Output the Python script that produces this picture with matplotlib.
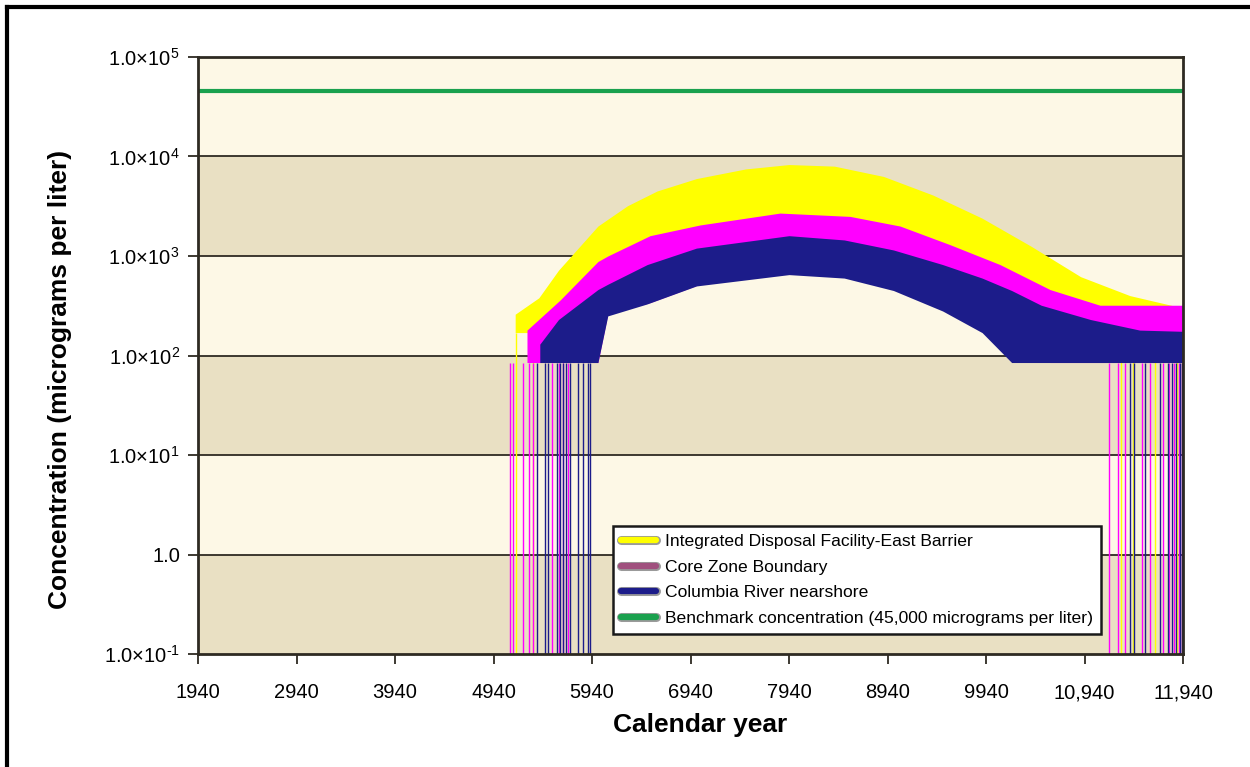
import matplotlib
matplotlib.use("Agg")
import matplotlib.pyplot as plt
from matplotlib.lines import Line2D
import matplotlib.patheffects as pe

plt.rcParams['font.family'] = ['Liberation Sans', 'DejaVu Sans']
plt.rcParams['mathtext.fontset'] = 'custom'
plt.rcParams['mathtext.rm'] = 'Liberation Sans'
plt.rcParams['mathtext.it'] = 'Liberation Sans'
plt.rcParams['mathtext.bf'] = 'Liberation Sans:bold'

# ---------------- data ----------------
x_ticks = [1940, 2940, 3940, 4940, 5940, 6940, 7940, 8940, 9940, 10940, 11940]
x_tick_labels = ["1940", "2940", "3940", "4940", "5940", "6940", "7940",
                 "8940", "9940", "10,940", "11,940"]
y_ticks = [0.1, 1, 10, 100, 1000, 10000, 100000]
y_tick_labels = ["$1.0{\\times}10^{\u2010 1}$", "1.0", r"$1.0{\times}10^{1}$",
                 r"$1.0{\times}10^{2}$", r"$1.0{\times}10^{3}$",
                 r"$1.0{\times}10^{4}$", r"$1.0{\times}10^{5}$"]

idf_years = [5160, 5400, 5600, 5800, 6000, 6300, 6600, 7000, 7500, 7940,
             8400, 8900, 9400, 9900, 10400, 10900, 11400, 11940]
idf_upper = [260, 380, 720, 1200, 2000, 3200, 4500, 6000, 7500, 8300,
             8000, 6300, 4100, 2400, 1250, 620, 400, 300]
idf_lower = [170, 170, 170, 250, 450, 800, 1100, 1500, 1800, 1900,
             1800, 1500, 1000, 600, 300, 170, 170, 170]

core_years = [5280, 5615, 6000, 6100, 6529, 7036, 7849, 8559, 9067, 9574,
              10082, 10590, 11097, 11940]
core_upper = [180, 360, 880, 1000, 1600, 2050, 2700, 2500, 2000, 1300,
              820, 460, 320, 320]
core_lower = [85, 85, 85, 260, 340, 520, 680, 620, 480, 300, 170, 85, 85, 85]

river_years = [5410, 5600, 6000, 6100, 6500, 7000, 7940, 8500, 9000, 9500,
               9900, 10200, 10500, 11000, 11500, 11940]
river_upper = [130, 230, 460, 520, 820, 1200, 1600, 1450, 1150, 820,
               600, 450, 320, 230, 180, 175]
river_lower = [85, 85, 85, 250, 330, 500, 650, 600, 450, 280,
               170, 85, 85, 85, 85, 85]

idf_drop_years = [5168, 5341, 11310, 11432, 11656, 11880]
idf_drop_top = [170, 170, 170, 170, 170, 170]
core_drop_years = [5108, 5138, 5239, 5300, 5341, 5534, 5600, 5650, 5700,
                   11189, 11280, 11351, 11523, 11605, 11737, 11800, 11850,
                   11900, 11930]
core_drop_top = [85] * len(core_drop_years)
river_drop_years = [5382, 5463, 5493, 5585, 5615, 5646, 5676, 5717, 5798,
                    5849, 5899, 5920, 11402, 11440, 11554, 11706, 11788,
                    11828, 11869, 11909, 11925]
river_drop_top = [85] * len(river_drop_years)

benchmark = 45000

# ---------------- styles ----------------
c_idf = "#FFFF00"
c_core = "#FF00FF"
c_river = "#1C1C8A"
c_bench = "#1AA14E"
band_light = "#FDF8E6"
band_tan = "#E9E0C3"

fig = plt.figure(figsize=(12.5, 7.67), dpi=100)
ax = fig.add_axes([0.1584, 0.1473, 0.788, 0.7784])
ax.set_yscale("log")
ax.set_xlim(1940, 11940)
ax.set_ylim(0.1, 100000)

# alternating decade bands
for i in range(len(y_ticks) - 1):
    col = band_light if (len(y_ticks) - 2 - i) % 2 == 0 else band_tan
    ax.axhspan(y_ticks[i], y_ticks[i + 1], color=col, zorder=0, lw=0)
for yv in y_ticks[1:-1]:
    ax.axhline(yv, color="#2E2A22", lw=1.3, zorder=1)

# series
ax.vlines(idf_drop_years, 0.1, idf_drop_top, colors=c_idf, lw=1.0, zorder=2)
ax.fill_between(idf_years, idf_lower, idf_upper, color=c_idf, lw=0, zorder=2)
ax.vlines(core_drop_years, 0.1, core_drop_top, colors=c_core, lw=1.0, zorder=3)
ax.fill_between(core_years, core_lower, core_upper, color=c_core, lw=0, zorder=3)
ax.vlines(river_drop_years, 0.1, river_drop_top, colors=c_river, lw=1.0, zorder=4)
ax.fill_between(river_years, river_lower, river_upper, color=c_river, lw=0, zorder=4)
ax.axhline(benchmark, color=c_bench, lw=3, zorder=5)

# axes styling
ax.set_xticks(x_ticks)
ax.set_xticklabels(x_tick_labels, fontsize=14.5)
ax.set_yticks(y_ticks)
ax.set_yticklabels(y_tick_labels, fontsize=14.5)
ax.minorticks_off()
ax.tick_params(axis="both", direction="out", length=7, width=1.3,
               color="#2E2A22", pad=6)
ax.tick_params(axis="x", pad=14)
for s in ax.spines.values():
    s.set_color("#2E2A22")
    s.set_linewidth(2)
    s.set_zorder(6)

ax.set_xlabel("Calendar year", fontsize=19, fontweight="bold")
ax.set_ylabel("Concentration (micrograms per liter)", fontsize=19,
              fontweight="bold")
ax.xaxis.set_label_coords(0.5096, -0.099)
ax.yaxis.set_label_coords(-0.128, 0.46)

edge = [pe.Stroke(linewidth=6.5, foreground="#9A9A9A"), pe.Normal()]
handles = [
    Line2D([], [], color=c_idf, lw=4.5, solid_capstyle="round", path_effects=edge),
    Line2D([], [], color="#A0507E", lw=4.5, solid_capstyle="round", path_effects=edge),
    Line2D([], [], color=c_river, lw=4.5, solid_capstyle="round", path_effects=edge),
    Line2D([], [], color=c_bench, lw=4.5, solid_capstyle="round", path_effects=edge),
]
labels = ["Integrated Disposal Facility-East Barrier", "Core Zone Boundary",
          "Columbia River nearshore",
          "Benchmark concentration (45,000 micrograms per liter)"]
leg = ax.legend(handles, labels, loc="lower left",
                bbox_to_anchor=(0.4213, 0.0335), borderaxespad=0,
                fontsize=12.6, frameon=True,
                fancybox=False, framealpha=1, edgecolor="#1A1A1A",
                handlelength=2.0, handletextpad=0.5, labelspacing=0.6,
                borderpad=0.45)
leg.get_frame().set_linewidth(1.8)
leg.set_zorder(10)

# figure frame (top and left edge)
fig.add_artist(Line2D([0.0056, 1.0], [0.9909, 0.9909], color="black", lw=3,
                      transform=fig.transFigure))
fig.add_artist(Line2D([0.0056, 0.0056], [0.0, 0.9909], color="black", lw=3,
                      transform=fig.transFigure))

fig.savefig("out.png", dpi=100)
